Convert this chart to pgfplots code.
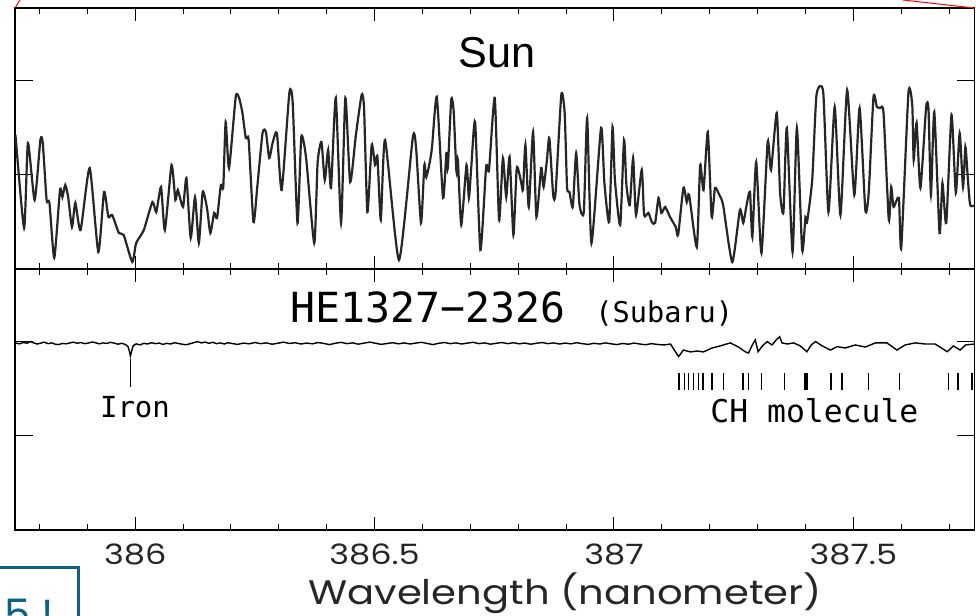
\documentclass[border=0pt]{standalone}
\usepackage{graphicx}
\usepackage{pgfplots}
\pgfplotsset{compat=1.18}
\usepackage{fontspec}
\setmainfont{Liberation Sans}
\newfontfamily\mono{DejaVu Sans Mono}
\newfontfamily\geo{Poppins}
\definecolor{boxteal}{RGB}{14,98,128}
\begin{document}
\begin{tikzpicture}
\useasboundingbox (0,0) rectangle (488pt,308pt);
\pgfplotsset{panel/.style={
  scale only axis, anchor=south west,
  width=479.75pt, height=130.5pt,
  xmin=385.749, xmax=387.753, ymin=0, ymax=1.388,
  xtick={386,386.5,387,387.5},
  minor xtick={385.8,385.9,386.1,386.2,386.3,386.4,386.6,386.7,386.8,386.9,387.1,387.2,387.3,387.4,387.6,387.7},
  ytick=\empty,
  extra y ticks={0.5,1}, extra y tick labels={},
  extra y tick style={major tick length=9pt},
  tick align=inside, tick pos=both,
  major tick length=6.5pt, minor tick length=3pt,
  every tick/.style={black, line width=0.5pt},
  axis line style={line width=0.6pt},
  /pgf/number format/assume math mode=true,
}}
% ---------------- Sun ----------------
\begin{axis}[panel, at={(7.5pt,173.5pt)}, xticklabels={}]
\addplot[black!85, line width=1.1pt, smooth, tension=0.35] coordinates {
(385.750,0.713)(385.768,0.218)(385.776,0.670)(385.790,0.367)(385.802,0.686)(385.807,0.670)
(385.815,0.367)(385.821,0.351)(385.831,0.059)(385.843,0.420)(385.848,0.383)(385.854,0.447)
(385.860,0.383)(385.868,0.223)(385.875,0.351)(385.886,0.207)(385.905,0.537)(385.923,0.090)
(385.935,0.410)(385.944,0.277)(385.952,0.287)(385.966,0.191)(385.976,0.181)(385.994,0.037)
(386.002,0.138)(386.018,0.207)(386.036,0.356)(386.044,0.303)(386.054,0.436)(386.062,0.207)
(386.076,0.553)(386.084,0.367)(386.089,0.420)(386.100,0.330)(386.107,0.484)(386.116,0.165)
(386.125,0.383)(386.133,0.138)(386.141,0.410)(386.150,0.324)(386.157,0.191)(386.165,0.298)
(386.171,0.271)(386.179,0.447)(386.184,0.436)(386.189,0.782)(386.196,0.537)(386.210,0.915)
(386.217,0.910)(386.224,0.830)(386.231,0.697)(386.237,0.686)(386.247,0.250)(386.255,0.436)
(386.266,0.723)(386.273,0.729)(386.280,0.590)(386.287,0.670)(386.296,0.723)(386.306,0.420)
(386.322,0.936)(386.329,0.883)(386.339,0.245)(386.347,0.702)(386.357,0.590)(386.374,0.138)
(386.381,0.564)(386.389,0.676)(386.396,0.473)(386.403,0.633)(386.409,0.431)(386.419,0.910)
(386.430,0.245)(386.439,0.910)(386.449,0.463)(386.461,0.713)(386.473,0.926)(386.478,0.856)
(386.485,0.303)(386.494,0.660)(386.501,0.553)(386.506,0.596)(386.513,0.261)(386.522,0.686)
(386.551,0.048)(386.580,0.702)(386.587,0.633)(386.597,0.245)(386.604,0.553)(386.608,0.489)
(386.615,0.564)(386.620,0.649)(386.630,0.915)(386.643,0.378)(386.650,0.617)(386.653,0.537)
(386.660,0.899)(386.665,0.846)(386.671,0.516)(386.674,0.580)(386.681,0.234)(386.692,0.553)
(386.697,0.378)(386.702,0.543)(386.710,0.782)(386.721,0.101)(386.733,0.543)(386.739,0.527)
(386.751,0.910)(386.760,0.261)(386.768,0.590)(386.775,0.383)(386.782,0.596)(386.790,0.181)
(386.797,0.537)(386.806,0.463)(386.810,0.420)(386.815,0.660)(386.822,0.330)(386.831,0.729)
(386.838,0.277)(386.848,0.537)(386.853,0.436)(386.860,0.580)(386.865,0.697)(386.873,0.394)
(386.878,0.404)(386.890,0.926)(386.897,0.830)(386.902,0.436)(386.907,0.410)(386.914,0.330)
(386.921,0.617)(386.928,0.340)(386.937,0.303)(386.944,0.803)(386.953,0.138)(386.973,0.750)
(386.980,0.457)(386.990,0.250)(386.997,0.755)(387.002,0.473)(387.013,0.234)(387.021,0.686)
(387.026,0.447)(387.033,0.340)(387.040,0.590)(387.046,0.287)(387.058,0.527)(387.063,0.287)
(387.072,0.298)(387.079,0.250)(387.086,0.245)(387.093,0.378)(387.099,0.298)(387.107,0.330)
(387.117,0.277)(387.129,0.223)(387.134,0.181)(387.145,0.431)(387.152,0.356)(387.157,0.394)
(387.173,0.117)(387.180,0.553)(387.187,0.420)(387.196,0.729)(387.204,0.277)(387.211,0.431)
(387.220,0.394)(387.228,0.340)(387.247,0.037)(387.263,0.314)(387.270,0.245)(387.277,0.340)
(387.284,0.410)(387.289,0.170)(387.297,0.569)(387.308,0.085)(387.321,0.676)(387.328,0.527)
(387.340,0.830)(387.347,0.404)(387.354,0.303)(387.361,0.750)(387.373,0.090)(387.382,0.750)
(387.393,0.101)(387.400,0.277)(387.403,0.245)(387.414,0.473)(387.423,0.926)(387.437,0.941)
(387.448,0.303)(387.461,0.862)(387.473,0.287)(387.487,0.952)(387.502,0.394)(387.513,0.856)
(387.525,0.314)(387.532,0.404)(387.542,0.915)(387.549,0.862)(387.556,0.856)(387.563,0.830)
(387.574,0.261)(387.579,0.436)(387.584,0.330)(387.595,0.378)(387.600,0.112)(387.615,0.936)
(387.623,0.872)(387.626,0.580)(387.632,0.777)(387.640,0.431)(387.652,0.862)(387.657,0.846)
(387.662,0.394)(387.669,0.835)(387.680,0.191)(387.686,0.457)(387.694,0.245)(387.705,0.819)
(387.714,0.404)(387.722,0.723)(387.729,0.436)(387.734,0.649)(387.739,0.484)(387.744,0.340)
(387.755,0.340)
};
\end{axis}
% ---------------- HE1327-2326 ----------------
\begin{axis}[panel, at={(7.5pt,43pt)},
  xticklabels={\scalebox{1.2}[1]{386},\scalebox{1.2}[1]{386.5},\scalebox{1.2}[1]{387},\scalebox{1.2}[1]{387.5}},
  xticklabel style={font=\geo\fontsize{14pt}{16pt}\selectfont, anchor=base, yshift=-17.5pt, text=black!85},
  xticklabel pos=lower]
\addplot[black, line width=0.7pt] coordinates {
(385.750,0.995)(385.758,0.990)(385.766,0.997)(385.774,0.993)(385.781,1.002)(385.787,0.996)
(385.795,0.989)(385.803,0.994)(385.810,0.999)(385.818,0.991)(385.826,0.995)(385.833,0.988)
(385.840,0.986)(385.848,0.992)(385.856,0.990)(385.864,0.995)(385.871,0.999)(385.879,0.993)
(385.887,0.997)(385.894,0.991)(385.902,0.994)(385.910,1.000)(385.917,0.996)(385.925,0.990)
(385.933,0.995)(385.941,0.992)(385.948,0.998)(385.956,0.994)(385.964,0.988)(385.972,0.993)
(385.980,0.986)(385.985,0.975)(385.988,0.950)(385.990,0.925)(385.993,0.955)(385.996,0.980)
(386.002,0.990)(386.010,0.984)(386.018,0.993)(386.026,0.989)(386.034,0.996)(386.042,0.991)
(386.050,0.994)(386.058,0.987)(386.066,0.993)(386.074,0.989)(386.082,0.996)(386.090,0.992)
(386.098,0.988)(386.106,0.985)(386.114,0.990)(386.122,0.996)(386.130,1.002)(386.138,0.995)
(386.146,0.999)(386.154,0.993)(386.162,0.998)(386.170,0.991)(386.178,0.995)(386.186,0.989)
(386.194,0.996)(386.202,0.992)(386.214,0.987)(386.226,0.994)(386.238,0.990)(386.250,0.997)
(386.262,0.991)(386.274,0.995)(386.286,0.988)(386.298,0.993)(386.310,0.999)(386.322,0.992)
(386.334,0.996)(386.346,0.989)(386.358,0.994)(386.370,0.990)(386.382,0.997)(386.394,0.992)
(386.406,0.986)(386.418,0.993)(386.430,0.998)(386.442,0.991)(386.454,0.995)(386.466,0.988)
(386.478,0.994)(386.490,0.999)(386.502,0.993)(386.514,0.987)(386.526,0.992)(386.538,0.996)
(386.550,0.990)(386.562,0.995)(386.574,0.989)(386.586,0.994)(386.598,0.998)(386.610,0.992)
(386.622,0.986)(386.634,0.993)(386.646,0.997)(386.658,0.991)(386.670,0.995)(386.682,0.989)
(386.694,0.994)(386.706,0.998)(386.718,0.991)(386.730,0.995)(386.742,0.988)(386.754,0.993)
(386.766,0.997)(386.778,0.991)(386.790,0.996)(386.802,0.990)(386.814,0.994)(386.826,0.988)
(386.838,0.993)(386.850,0.997)(386.862,0.991)(386.874,0.995)(386.886,0.989)(386.898,0.994)
(386.910,0.990)(386.922,0.996)(386.934,0.991)(386.946,0.987)(386.958,0.993)(386.970,0.989)
(386.982,0.995)(386.994,0.990)(387.006,0.986)(387.018,0.992)(387.030,0.988)(387.042,0.994)
(387.054,0.989)(387.066,0.985)(387.078,0.991)(387.090,0.987)(387.104,0.984)(387.118,0.989)
(387.135,0.922)(387.145,0.957)(387.160,0.947)(387.174,0.952)(387.187,0.947)(387.205,0.968)
(387.222,0.979)(387.243,0.995)(387.260,0.973)(387.274,0.948)(387.281,0.941)(387.289,0.984)
(387.295,1.011)(387.301,0.948)(387.310,0.979)(387.320,1.002)(387.330,0.984)(387.339,1.011)
(387.346,1.028)(387.351,0.995)(387.362,0.989)(387.375,0.995)(387.389,0.979)(387.403,0.948)
(387.412,0.984)(387.421,1.002)(387.435,0.979)(387.452,0.957)(387.466,0.975)(387.483,0.968)
(387.504,0.984)(387.525,0.973)(387.546,0.995)(387.570,0.995)(387.591,0.957)(387.608,0.984)
(387.629,0.995)(387.650,0.989)(387.671,0.989)(387.696,0.948)(387.709,0.979)(387.723,0.957)
(387.734,0.984)(387.753,0.989)
};
% Iron line marker
\addplot[only marks, mark=|, mark size=7pt, mark options={line width=0.6pt}] coordinates {(385.990,0.835)};
% CH line markers
\addplot[only marks, mark=|, mark size=4.25pt, mark options={line width=0.75pt}] coordinates {
(387.136,0.790)(387.147,0.790)(387.156,0.790)(387.166,0.790)(387.177,0.790)(387.186,0.790)
(387.205,0.790)(387.229,0.790)(387.269,0.790)(387.281,0.790)(387.308,0.790)(387.356,0.790)
(387.399,0.790)(387.403,0.790)(387.453,0.790)(387.476,0.790)(387.532,0.790)(387.596,0.790)
(387.699,0.790)(387.719,0.790)(387.748,0.790)
};
\end{axis}
% ---------------- texts (pixel coordinates, y downwards) ----------------
\begin{scope}[shift={(0pt,308pt)}, x=0.5pt, y=-0.5pt]
\node[anchor=base, inner sep=0pt] at (497,68) {\fontsize{21.6pt}{24pt}\selectfont Sun};
\node[anchor=base west, inner sep=0pt] at (290,323) {\mono\fontsize{20.75pt}{24pt}\selectfont HE1327−2326};
\node[anchor=base west, inner sep=0pt] at (595,323) {\mono\fontsize{14.3pt}{16pt}\selectfont (Subaru)};
\node[anchor=base, inner sep=0pt] at (135,418) {\mono\fontsize{14.5pt}{16pt}\selectfont Iron};
\node[anchor=base west, inner sep=0pt] at (710,423) {\mono\fontsize{15.7pt}{18pt}\selectfont CH molecule};
\node[anchor=base, inner sep=0pt, text=black!85] at (565,605) {\scalebox{1.18}[1]{\geo\fontsize{17pt}{20pt}\selectfont Wavelength (nanometer)}};
\draw[red, line width=0.5pt] (20,0) -- (15,8);
\draw[red, line width=0.5pt] (903,0) -- (974,8);
\draw[boxteal, line width=1.5pt] (-5,568) -- (78,568) -- (78,640);
\node[anchor=base west, inner sep=0pt, text=boxteal] at (4,630) {\geo\fontsize{21pt}{24pt}\selectfont 5 !};
\end{scope}
\end{tikzpicture}
\end{document}
